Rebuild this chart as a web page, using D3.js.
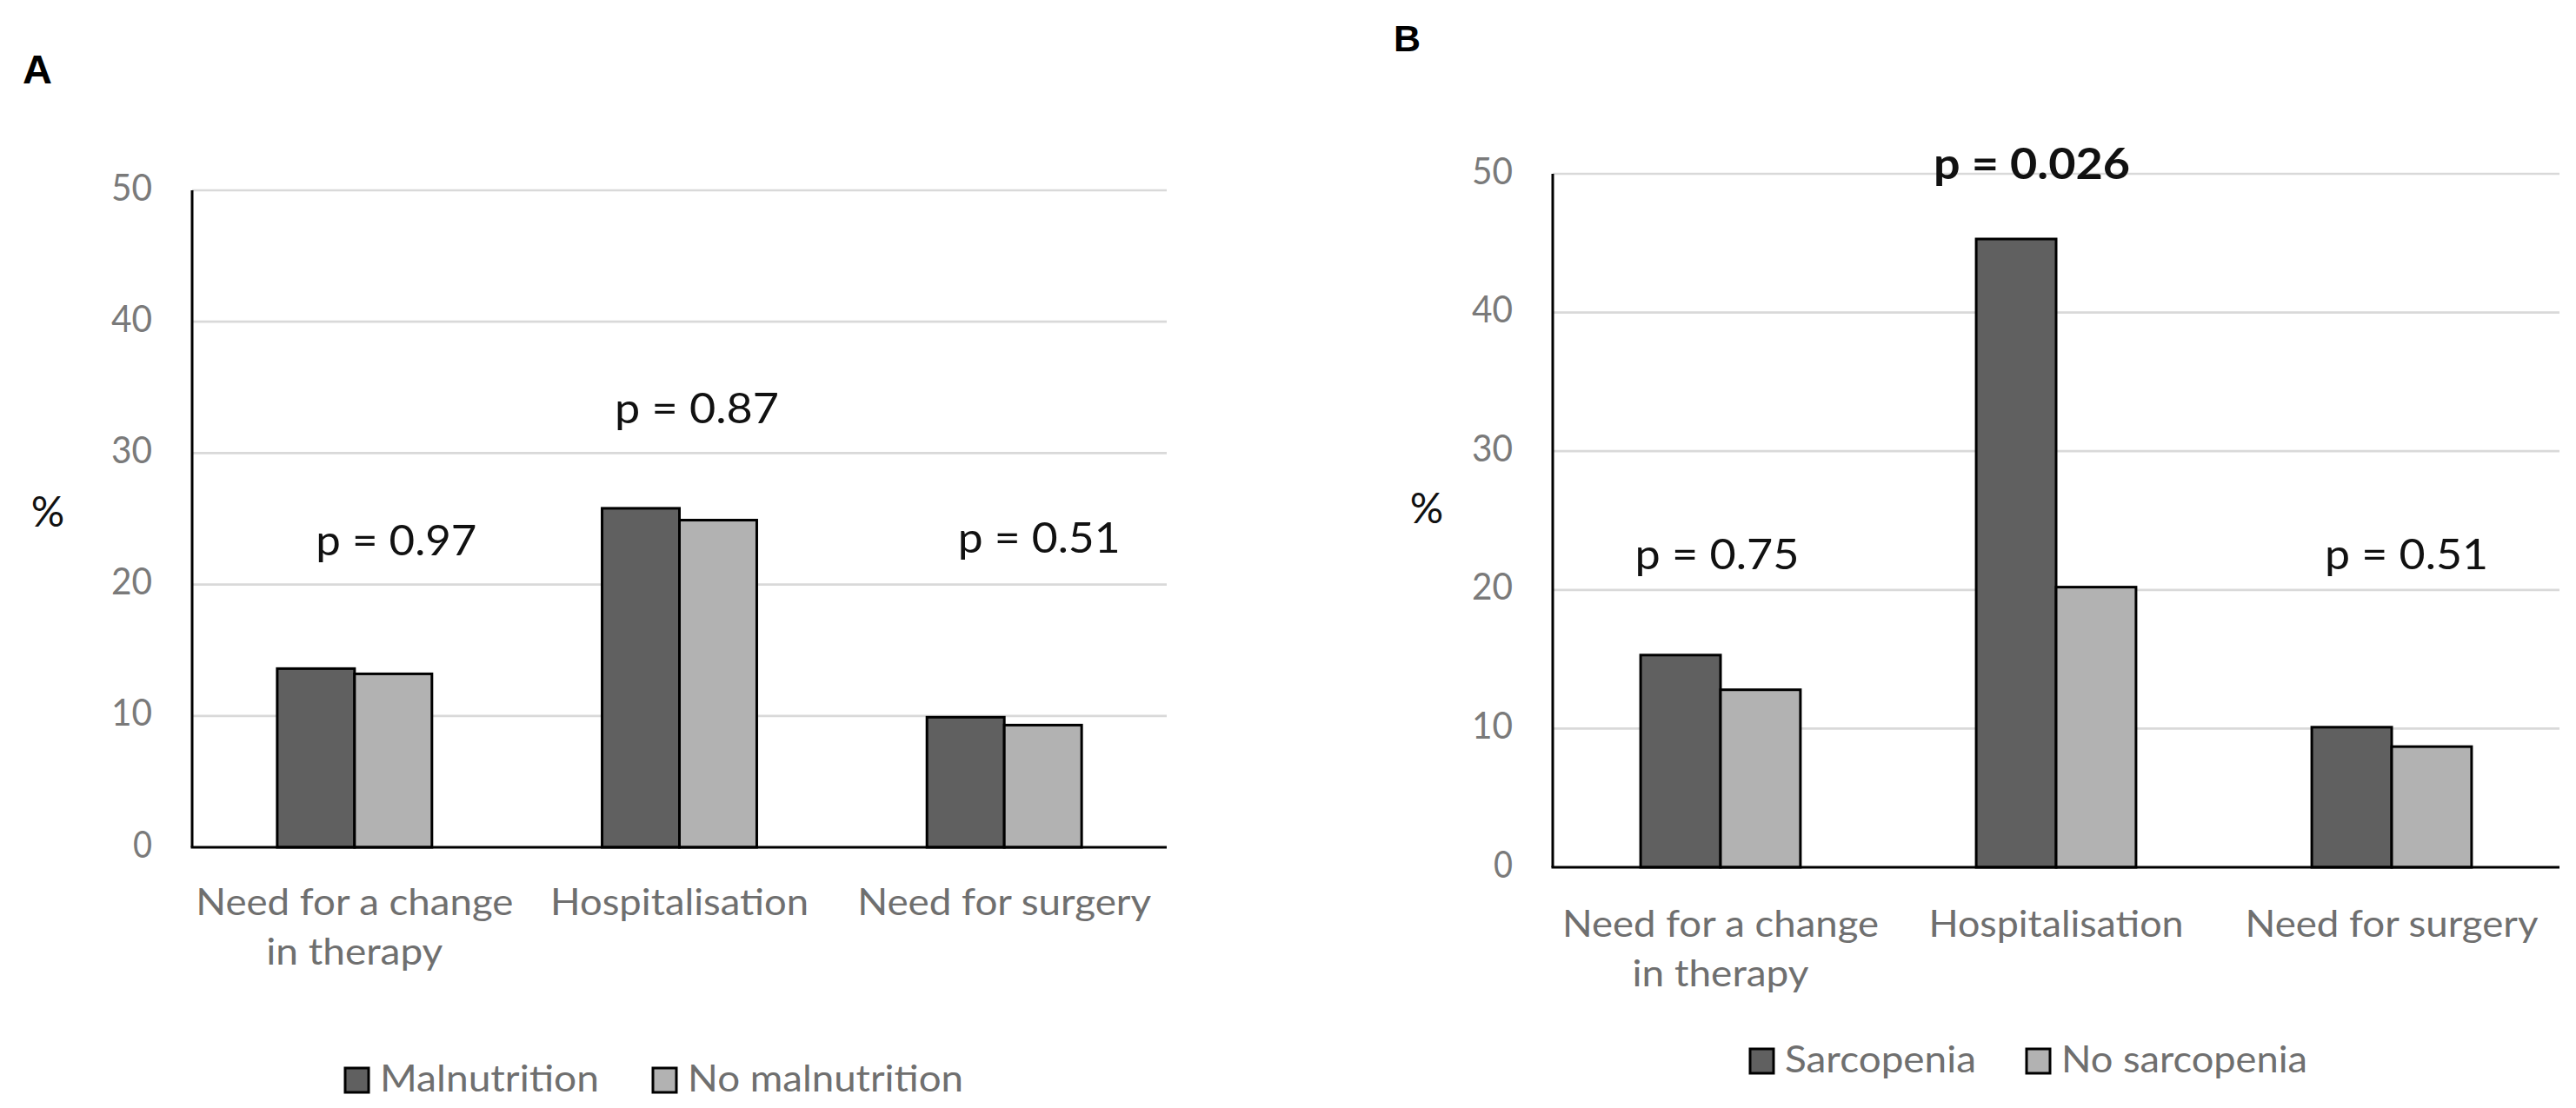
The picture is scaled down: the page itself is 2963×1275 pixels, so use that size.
<!DOCTYPE html>
<html>
<head>
<meta charset="utf-8">
<script src="https://cdn.jsdelivr.net/npm/d3@7"></script>
<style>
  html, body { margin: 0; padding: 0; background: #ffffff; }
  svg { display: block; }
</style>
</head>
<body>
<svg id="chart" width="2963" height="1275"></svg>
<script>
// ---------------- data ----------------
const categories = ["Need for a change in therapy", "Hospitalisation", "Need for surgery"];
const categoryLines = [["Need for a change", "in therapy"], ["Hospitalisation"], ["Need for surgery"]];
const yTicks = [0, 10, 20, 30, 40, 50];

const seriesA = ["Malnutrition", "No malnutrition"];
const malnutrition = [13.6, 25.8, 9.9];
const noMalnutrition = [13.2, 24.9, 9.3];
const pValuesA = ["p = 0.97", "p = 0.87", "p = 0.51"];

const seriesB = ["Sarcopenia", "No sarcopenia"];
const sarcopenia = [15.3, 45.3, 10.1];
const noSarcopenia = [12.8, 20.2, 8.7];
const pValuesB = ["p = 0.75", "p = 0.026", "p = 0.51"];

// ---------------- layout / style ----------------
const colors = ["#606060", "#b2b2b2"];
const font = "Lato, 'Open Sans', sans-serif";
const textGray = "#6f6f6f";

const svg = d3.select("#chart");

function fit(sel, w) {
  if (w) sel.attr("textLength", w).attr("lengthAdjust", "spacingAndGlyphs");
  return sel;
}

function drawPanel(cfg) {
  const g = svg.append("g");
  const x0 = d3.scaleBand().domain(categories).range([cfg.left, cfg.right]).paddingInner(0).paddingOuter(0);
  const x1 = d3.scaleBand().domain(cfg.series).range([0, x0.bandwidth()]).paddingInner(0).paddingOuter(1.1);
  const y = d3.scaleLinear().domain([0, 50]).range([cfg.bottom, cfg.top]);

  // gridlines
  g.append("g").selectAll("line").data(yTicks.filter(t => t > 0)).join("line")
    .attr("x1", cfg.left).attr("x2", cfg.right)
    .attr("y1", d => y(d)).attr("y2", d => y(d))
    .attr("stroke", "#d9d9d9").attr("stroke-width", 2.7);

  // y axis via d3.axisLeft (labels only)
  const ya = g.append("g").attr("transform", `translate(${cfg.left},0)`)
    .call(d3.axisLeft(y).tickValues(yTicks).tickSize(0).tickPadding(46));
  ya.select(".domain").remove();
  ya.selectAll("text")
    .attr("font-family", font).attr("font-size", 43).attr("fill", "#7a7a7a")
    .attr("dy", "0.26em");
  ya.selectAll("text").each(function(d) { fit(d3.select(this), d === 0 ? 22 : 47); });

  // bars
  const groups = g.append("g").selectAll("g").data(categories).join("g")
    .attr("transform", d => `translate(${x0(d)},0)`);
  groups.selectAll("rect")
    .data((d, i) => cfg.series.map((s, k) => ({ s, k, v: cfg.values[k][i] })))
    .join("rect")
    .attr("x", d => x1(d.s))
    .attr("width", x1.bandwidth())
    .attr("y", d => y(d.v))
    .attr("height", d => y(0) - y(d.v))
    .attr("fill", d => colors[d.k])
    .attr("stroke", "#000").attr("stroke-width", 3);

  // axes lines
  g.append("line").attr("x1", cfg.left).attr("x2", cfg.left)
    .attr("y1", y(50)).attr("y2", y(0)).attr("stroke", "#000").attr("stroke-width", 3);
  g.append("line").attr("x1", cfg.left - 1.5).attr("x2", cfg.right)
    .attr("y1", y(0)).attr("y2", y(0)).attr("stroke", "#000").attr("stroke-width", 3);

  // category labels
  categories.forEach((c, i) => {
    categoryLines[i].forEach((line, j) => {
      const t = g.append("text")
        .attr("x", x0(c) + x0.bandwidth() / 2)
        .attr("y", cfg.bottom + cfg.catDy + j * 57)
        .attr("text-anchor", "middle")
        .attr("font-family", font).attr("font-size", 42).attr("fill", textGray)
        .text(line);
      fit(t, cfg.catWidths[i][j]);
    });
  });

  // p-value annotations
  cfg.pvals.forEach((p, i) => {
    const t = g.append("text")
      .attr("x", x0(categories[i]) + x0.bandwidth() / 2 + cfg.pOffsets[i])
      .attr("y", y(cfg.pLevels[i]))
      .attr("text-anchor", "middle")
      .attr("font-family", font).attr("font-size", cfg.pBold[i] ? 50 : 49)
      .attr("font-weight", cfg.pBold[i] ? "bold" : "normal")
      .attr("fill", "#111")
      .text(p);
    fit(t, cfg.pWidths[i]);
  });

  // % label
  g.append("text").attr("x", cfg.pctX).attr("y", cfg.pctY)
    .attr("text-anchor", "middle").attr("font-family", font).attr("font-size", 48)
    .attr("fill", "#111").text("%");

  // panel letter
  g.append("text").attr("x", cfg.letterX).attr("y", cfg.letterY)
    .attr("font-family", "'Liberation Sans', Arial, sans-serif").attr("font-weight", "bold")
    .attr("font-size", cfg.letterSize).attr("fill", "#000").text(cfg.letter);

  // legend
  const lg = g.append("g");
  cfg.series.forEach((s, k) => {
    lg.append("rect").attr("x", cfg.legendX[k]).attr("y", cfg.legendY - 14)
      .attr("width", 27).attr("height", 28)
      .attr("fill", colors[k]).attr("stroke", "#000").attr("stroke-width", 3);
    const t = lg.append("text").attr("x", cfg.legendX[k] + 40).attr("y", cfg.legendY + 13)
      .attr("font-family", font).attr("font-size", 42).attr("fill", textGray).text(s);
    fit(t, cfg.legendWidths[k]);
  });
}

drawPanel({
  letter: "A", letterX: 26, letterY: 96, letterSize: 47,
  left: 221, right: 1342, top: 219, bottom: 975,
  series: seriesA, values: [malnutrition, noMalnutrition],
  catDy: 78, catWidths: [[365, 203], [297], [338]],
  pvals: pValuesA, pOffsets: [48, 20, 40], pLevels: [22.2, 32.3, 22.4],
  pWidths: [185, 189, 187], pBold: [false, false, false],
  pctX: 55, pctY: 606,
  legendX: [397, 751], legendY: 1243, legendWidths: [252, 317]
});

drawPanel({
  letter: "B", letterX: 1603, letterY: 59, letterSize: 43,
  left: 1786, right: 2944, top: 200, bottom: 998,
  series: seriesB, values: [sarcopenia, noSarcopenia],
  catDy: 80, catWidths: [[364, 203], [293], [337]],
  pvals: pValuesB, pOffsets: [-4, -28, 17], pLevels: [21.5, 49.6, 21.5],
  pWidths: [189, 226, 188], pBold: [false, true, false],
  pctX: 1641, pctY: 602,
  legendX: [2013, 2331], legendY: 1221, legendWidths: [220, 283]
});
</script>
</body>
</html>
